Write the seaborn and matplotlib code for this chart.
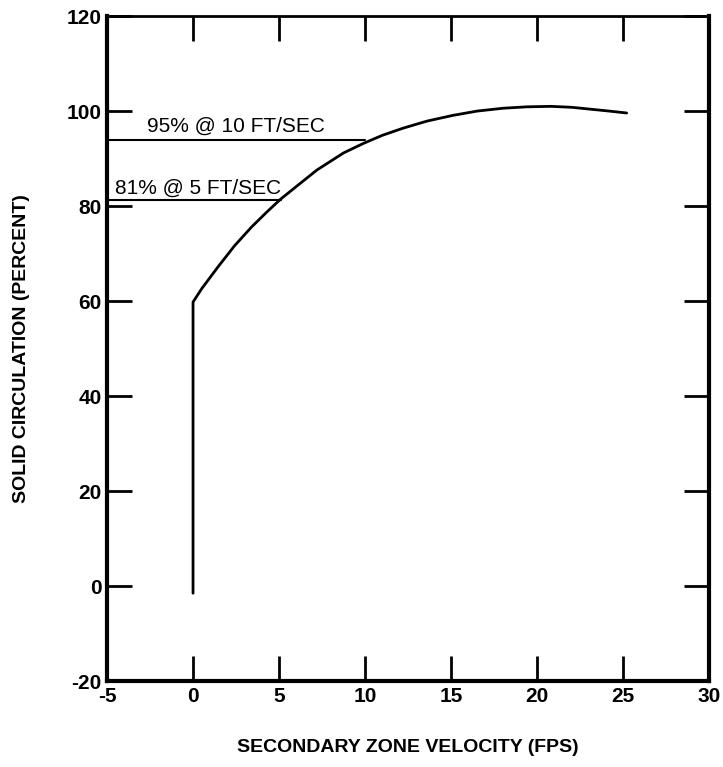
import matplotlib
matplotlib.use("Agg")
import matplotlib.pyplot as plt
import seaborn as sns
import pandas as pd

# curve: vertical stem at 0, then the rising arc
velocity = [0, 0, 0.5, 1.45, 2.4, 3.4, 4.3, 5.1, 6.2, 7.2, 8.75, 9.9, 11.0, 12.2, 13.6, 15.1, 16.5, 18.0, 19.4, 20.8, 22.0, 23.1, 24.2, 25.2]
circulation = [-1.5, 59.8, 62.6, 67.2, 71.6, 75.6, 78.8, 81.5, 84.7, 87.6, 91.2, 93.2, 94.9, 96.4, 97.9, 99.1, 100.0, 100.6, 100.9, 101.0, 100.8, 100.4, 100.0, 99.6]

# reference lines
ref_labels = ["95% @ 10 FT/SEC", "81% @ 5 FT/SEC"]
ref_x_end = [10, 5.1]
ref_y = [94, 81.3]

x_ticks = [-5, 0, 5, 10, 15, 20, 25, 30]
y_ticks = [-20, 0, 20, 40, 60, 80, 100, 120]

sns.set_theme(style="ticks")
plt.rcParams["font.family"] = ["Liberation Sans", "DejaVu Sans"]
plt.rcParams["text.color"] = "black"
plt.rcParams["axes.labelcolor"] = "black"

fig = plt.figure(figsize=(7.23, 7.67), dpi=100)
ax = fig.add_axes([0.148, 0.112, 0.833, 0.867])

df = pd.DataFrame({"v": velocity, "c": circulation})
sns.lineplot(data=df, x="v", y="c", sort=False, estimator=None, color="black", lw=2, ax=ax)

for xe, yv in zip(ref_x_end, ref_y):
    ax.plot([-5, xe], [yv, yv], color="black", lw=1.5)

ax.text(-2.65, 95.6, ref_labels[0], fontsize=15, va="baseline", ha="left")
ax.text(-4.55, 82.6, ref_labels[1], fontsize=15, va="baseline", ha="left")

ax.set_xlim(-5, 30)
ax.set_ylim(-20, 120)
ax.set_xticks(x_ticks)
ax.set_yticks(y_ticks)
ax.set_xticklabels([str(t) for t in x_ticks], fontsize=15, fontweight="bold")
ax.set_yticklabels([str(t) for t in y_ticks], fontsize=15, fontweight="bold")
ax.tick_params(direction="in", length=18, width=2, top=True, right=True, pad=4, colors="black")

for side, w in [("left", 3), ("bottom", 3), ("right", 3), ("top", 2)]:
    ax.spines[side].set_linewidth(w)
    ax.spines[side].set_color("black")

ax.set_xlabel("SECONDARY ZONE VELOCITY (FPS)", fontsize=14, fontweight="bold", labelpad=24)
ax.set_ylabel("SOLID CIRCULATION (PERCENT)", fontsize=14, fontweight="bold", labelpad=26)

fig.savefig("out.png", dpi=100)
